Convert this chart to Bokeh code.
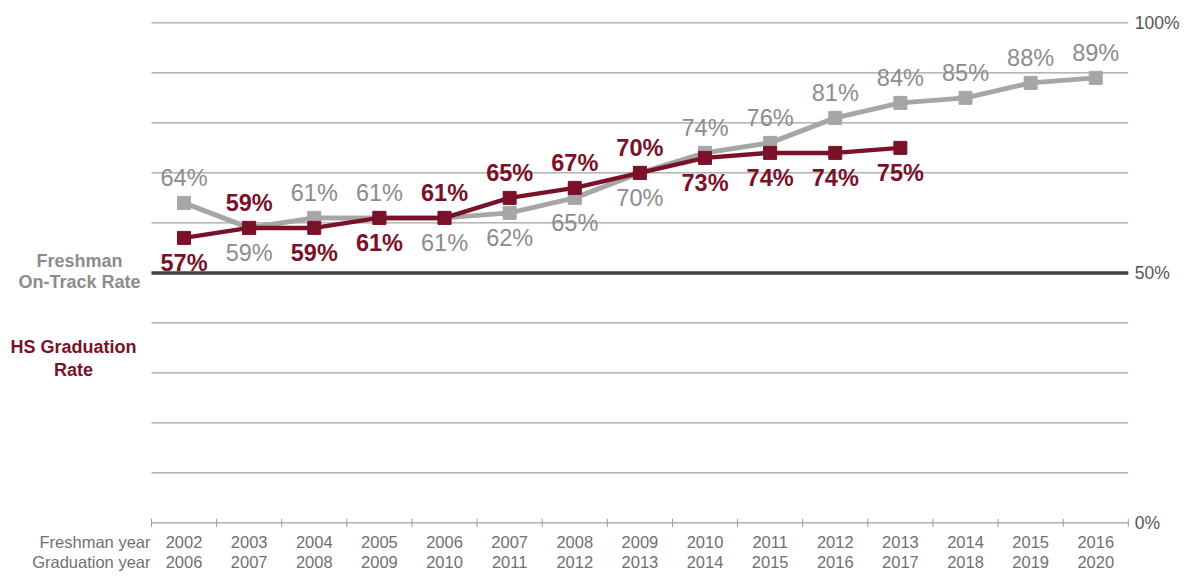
from bokeh.plotting import figure
from bokeh.models import Range1d, ColumnDataSource
from bokeh.embed import file_html
from bokeh.resources import INLINE
from bokeh.core.properties import value

# ---------------- data ----------------
freshman_years = ["2002", "2003", "2004", "2005", "2006", "2007", "2008", "2009",
                  "2010", "2011", "2012", "2013", "2014", "2015", "2016"]
graduation_years = ["2006", "2007", "2008", "2009", "2010", "2011", "2012", "2013",
                    "2014", "2015", "2016", "2017", "2018", "2019", "2020"]
on_track_rate = [64, 59, 61, 61, 61, 62, 65, 70, 74, 76, 81, 84, 85, 88, 89]
graduation_rate = [57, 59, 59, 61, 61, 65, 67, 70, 73, 74, 74, 75]
grid_levels = [10, 20, 30, 40, 60, 70, 80, 90, 100]
axis_levels = [0, 50, 100]
axis_labels = ["0%", "50%", "100%"]

# label placement (a = above point, b = below point)
on_track_place = ["a", "b", "a", "a", "b", "b", "b", "b", "a", "a", "a", "a", "a", "a", "a"]
grad_place = ["b", "a", "b", "b", "a", "a", "a", "a", "b", "b", "b", "b"]

# ---------------- geometry ----------------
W, H = 1188, 572
SX, SY = W / 1204.0, H / 588.0
X0 = 153.0 * SX      # canvas px of first category boundary
BAND = 66.0 * SX     # px per category
Y0 = 537.0 * SY      # canvas px of 0%
PXU = 5.14 * SY      # px per percentage point

def dx(ref_x):
    return (ref_x * SX - X0) / BAND

def dy(ref_y):
    return (Y0 - ref_y * SY) / PXU

FONT = value("Liberation Sans")
GREY = "#a6a6a6"
GREY_TXT = "#8c8c8c"
RED = "#7b1128"

p = figure(width=W, height=H, output_backend="svg", toolbar_location=None,
           x_range=Range1d(-X0 / BAND, (W - X0) / BAND),
           y_range=Range1d(-(H - Y0) / PXU, Y0 / PXU),
           min_border=0, outline_line_color=None)
p.axis.visible = False
p.grid.visible = False
p.background_fill_color = "white"
p.border_fill_color = "white"

n = len(freshman_years)

# grid lines
p.segment(x0=[0] * len(grid_levels), x1=[n] * len(grid_levels),
          y0=grid_levels, y1=grid_levels, line_color="#8a8a8a", line_width=1)
# 50% line
p.segment(x0=[0], x1=[n], y0=[50], y1=[50], line_color="#404040", line_width=3.5)
# 0% axis with ticks
p.segment(x0=[0], x1=[n], y0=[0], y1=[0], line_color="#8a8a8a", line_width=1)
ticks = list(range(n + 1))
p.segment(x0=ticks, x1=ticks, y0=[0.8] * len(ticks), y1=[-0.8] * len(ticks),
          line_color="#9a9a9a", line_width=1)

# right labels
p.text(x=[n + 0.1] * 3, y=axis_levels, text=axis_labels, text_font=FONT,
       text_font_size="17.5px", text_color="#555555", text_baseline="middle",
       text_align="left")

# series
xs_ot = [i + 0.5 for i in range(len(on_track_rate))]
xs_gr = [i + 0.5 for i in range(len(graduation_rate))]
p.line(xs_ot, on_track_rate, line_color=GREY, line_width=5)
p.scatter(xs_ot, on_track_rate, marker="square", size=13, fill_color=GREY, line_color=GREY)
p.line(xs_gr, graduation_rate, line_color=RED, line_width=4.5)
p.scatter(xs_gr, graduation_rate, marker="square", size=13, fill_color=RED, line_color=RED)

OFF = 25
src_ot = ColumnDataSource(dict(
    x=xs_ot, y=on_track_rate, t=[f"{v}%" for v in on_track_rate],
    off=[-OFF if s == "a" else OFF for s in on_track_place]))
p.text(x="x", y="y", text="t", y_offset="off", source=src_ot, text_font=FONT,
       text_font_size="23.5px", text_color=GREY_TXT, text_align="center",
       text_baseline="middle")
src_gr = ColumnDataSource(dict(
    x=xs_gr, y=graduation_rate, t=[f"{v}%" for v in graduation_rate],
    off=[-OFF if s == "a" else OFF for s in grad_place]))
p.text(x="x", y="y", text="t", y_offset="off", source=src_gr, text_font=FONT,
       text_font_size="23.5px", text_font_style="bold", text_color=RED,
       text_align="center", text_baseline="middle")

# x labels (two rows)
p.text(x=xs_ot, y=[dy(557)] * n, text=freshman_years, text_font=FONT,
       text_font_size="16.5px", text_color="#707070", text_align="center",
       text_baseline="middle")
p.text(x=xs_ot, y=[dy(577)] * n, text=graduation_years, text_font=FONT,
       text_font_size="16.5px", text_color="#707070", text_align="center",
       text_baseline="middle")
p.text(x=[dx(152)] * 2, y=[dy(557), dy(577)], text=["Freshman year", "Graduation year"],
       text_font=FONT, text_font_size="16.5px", text_color="#707070",
       text_align="right", text_baseline="middle")

# series labels on the left
p.text(x=[dx(80)] * 2, y=[dy(268), dy(289)], text=["Freshman", "On-Track Rate"],
       text_font=FONT, text_font_size="18px", text_font_style="bold",
       text_color=GREY_TXT, text_align="center", text_baseline="middle")
p.text(x=[dx(74)] * 2, y=[dy(356), dy(380)], text=["HS Graduation", "Rate"],
       text_font=FONT, text_font_size="18px", text_font_style="bold",
       text_color=RED, text_align="center", text_baseline="middle")

open("out.html", "w").write(file_html(p, INLINE))
